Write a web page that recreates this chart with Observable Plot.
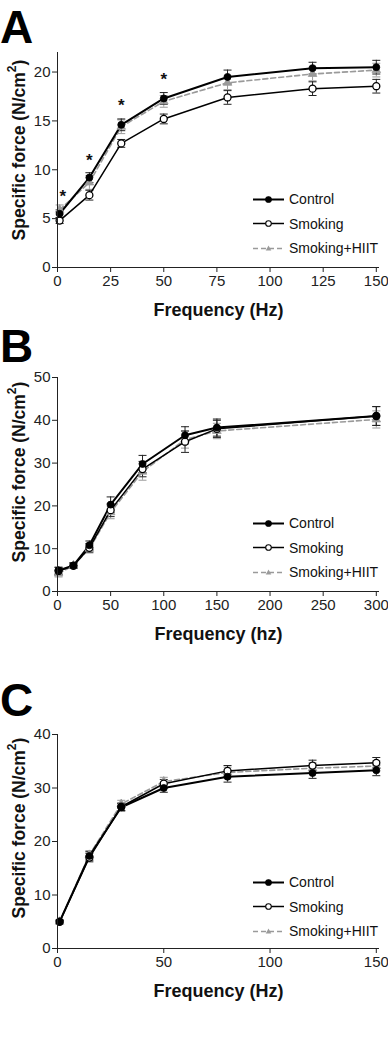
<!DOCTYPE html>
<html><head><meta charset="utf-8">
<script src="https://cdn.jsdelivr.net/npm/d3@7"></script>
<script src="https://cdn.jsdelivr.net/npm/@observablehq/plot@0.6"></script>
<style>
body{margin:0;background:#fff;}
#wrap{position:relative;width:388px;height:1048px;font-family:"Liberation Sans",Arial,sans-serif;overflow:hidden;}
.panel{position:absolute;left:0;}
.letter{position:absolute;left:0;font-weight:bold;font-size:46px;line-height:1;color:#000;}
.ylab{position:absolute;width:260px;height:20px;text-align:center;font-weight:bold;font-size:17.5px;line-height:20px;transform:rotate(-90deg);color:#111;white-space:nowrap;}
.ylab sup{font-size:12px;line-height:0;vertical-align:9px;}
.legend{position:absolute;left:253px;font-size:14px;color:#111;}
.legend .row{height:24.5px;display:flex;align-items:center;}
.legend svg{display:block;margin-right:5px;}
g[aria-label="x-axis label"] text{font-weight:bold;font-size:18px;fill:#111;}
</style></head>
<body><div id="wrap"></div>
<script>
// ---------- DATA ----------
const seriesNames = ["Control", "Smoking", "Smoking+HIIT"];

// Panel A
const freqA = [1, 15, 30, 50, 80, 120, 150];
const controlA = [5.5, 9.2, 14.6, 17.3, 19.5, 20.4, 20.5];
const controlAErr = [0.4, 0.5, 0.6, 0.6, 0.7, 0.6, 0.7];
const smokingA = [4.8, 7.4, 12.7, 15.2, 17.4, 18.3, 18.55];
const smokingAErr = [0.3, 0.5, 0.4, 0.5, 0.7, 0.7, 0.7];
const hiitA = [5.9, 8.7, 14.4, 17.0, 18.9, 19.8, 20.2];
const hiitAErr = [0.5, 0.7, 0.7, 0.6, 0.7, 0.7, 0.7];
const starFreqA = [2.5, 15, 30, 50];
const starYA = [7.7, 11.4, 17.0, 19.6];
const yTicksA = [0, 5, 10, 15, 20];
const xTicksA = [0, 25, 50, 75, 100, 125, 150];

// Panel B
const freqB = [1, 15, 30, 50, 80, 120, 150, 300];
const controlB = [4.9, 6.1, 10.8, 20.3, 29.8, 36.5, 38.3, 41.0];
const controlBErr = [0.8, 0.6, 1.0, 1.8, 2.0, 2.0, 2.0, 2.2];
const smokingB = [4.8, 6.0, 10.2, 19.0, 28.6, 35.0, 38.0, 41.0];
const smokingBErr = [0.8, 0.6, 1.0, 1.5, 1.8, 2.5, 2.0, 2.2];
const hiitB = [4.2, 6.1, 10.0, 18.5, 28.0, 35.5, 37.5, 40.2];
const hiitBErr = [0.8, 0.6, 1.0, 1.5, 2.0, 2.0, 1.8, 2.0];
const yTicksB = [0, 10, 20, 30, 40, 50];
const xTicksB = [0, 50, 100, 150, 200, 250, 300];

// Panel C
const freqC = [1, 15, 30, 50, 80, 120, 150];
const controlC = [5.0, 17.3, 26.4, 30.0, 32.1, 32.8, 33.3];
const controlCErr = [0.3, 0.8, 0.7, 0.8, 1.0, 1.0, 1.0];
const smokingC = [5.0, 17.0, 26.5, 30.8, 33.2, 34.2, 34.7];
const smokingCErr = [0.3, 0.8, 0.7, 0.8, 1.0, 1.0, 1.0];
const hiitC = [5.0, 17.5, 27.0, 31.2, 32.9, 33.7, 34.1];
const hiitCErr = [0.3, 0.8, 0.7, 0.8, 1.0, 1.0, 1.0];
const yTicksC = [0, 10, 20, 30, 40];
const xTicksC = [0, 50, 100, 150];

// ---------- STYLE ----------
const styles = {
  "Control": {stroke: "#000", width: 2, dash: null, fill: "#000", symbol: "circle", r: 3.5},
  "Smoking": {stroke: "#000", width: 1.5, dash: null, fill: "#fff", symbol: "circle", r: 3.5},
  "Smoking+HIIT": {stroke: "#9a9a9a", width: 1.6, dash: "5,3", fill: "#9a9a9a", symbol: "triangle", r: 3.2}
};
const cap = {draw(ctx, size) { const w = Math.sqrt(size / Math.PI); ctx.moveTo(-w, 0); ctx.lineTo(w, 0); }};

function rowsFor(freq, vals, errs, name) {
  return freq.map((f, i) => ({freq: f, v: vals[i], e: errs[i], series: name}));
}

function makePlot({data, xDomain, xTicks, yDomain, yTicks, xLabel, stars, marginBottom}) {
  const marks = [];
  const order = ["Smoking+HIIT", "Smoking", "Control"];
  for (const name of order) {
    const st = styles[name];
    const d = data[name];
    const c = st.stroke === "#000" ? "#222" : st.stroke;
    marks.push(Plot.ruleX(d, {x: "freq", y1: r => r.v - r.e, y2: r => r.v + r.e, stroke: c, strokeWidth: 1}));
    marks.push(Plot.dot(d, {x: "freq", y: r => r.v - r.e, symbol: cap, r: 4, stroke: c, strokeWidth: 1}));
    marks.push(Plot.dot(d, {x: "freq", y: r => r.v + r.e, symbol: cap, r: 4, stroke: c, strokeWidth: 1}));
  }
  for (const name of order) {
    const st = styles[name];
    marks.push(Plot.line(data[name], {x: "freq", y: "v", stroke: st.stroke, strokeWidth: st.width, strokeDasharray: st.dash}));
  }
  for (const name of order) {
    const st = styles[name];
    marks.push(Plot.dot(data[name], {x: "freq", y: "v", symbol: st.symbol, r: st.r, fill: st.fill, stroke: st.stroke, strokeWidth: name === "Smoking" ? 1.3 : 0.8}));
  }
  if (stars) {
    marks.push(Plot.text(stars, {x: "x", y: "y", text: () => "*", fontSize: 17, fontWeight: "bold", fill: "#111", dy: 4}));
  }
  marks.push(Plot.ruleY([0], {stroke: "#222", strokeWidth: 1}));
  marks.push(Plot.ruleX([0], {stroke: "#222", strokeWidth: 1}));
  marks.push(Plot.axisX({ticks: xTicks, tickSize: 5, tickPadding: 3, label: xLabel, labelAnchor: "center", labelArrow: "none", labelOffset: 48, stroke: "#222"}));
  marks.push(Plot.axisY({ticks: yTicks, tickSize: 5, tickPadding: 2, label: null, stroke: "#222"}));
  return Plot.plot({
    width: 388, height: 280,
    marginLeft: 57, marginRight: 9, marginTop: 12, marginBottom: marginBottom,
    x: {domain: xDomain},
    y: {domain: yDomain},
    style: {fontFamily: "'Liberation Sans', Arial, sans-serif", fontSize: "15px", color: "#222", background: "transparent", overflow: "visible"},
    marks
  });
}

const wrap = document.getElementById("wrap");
function addPanel({top, letter, letterTop, ylabCenter, legendTop, plotOpts}) {
  const p = document.createElement("div");
  p.className = "panel"; p.style.top = top + "px";
  p.appendChild(makePlot(plotOpts));
  wrap.appendChild(p);
  const L = document.createElement("div");
  L.className = "letter"; L.style.top = letterTop + "px"; L.textContent = letter;
  wrap.appendChild(L);
  const yl = document.createElement("div");
  yl.className = "ylab"; yl.style.left = (19 - 130) + "px"; yl.style.top = (ylabCenter - 10) + "px";
  yl.innerHTML = "Specific force (N/cm<sup>2</sup>)";
  wrap.appendChild(yl);
  const lg = document.createElement("div");
  lg.className = "legend"; lg.style.top = legendTop + "px";
  for (const name of seriesNames) {
    const st = styles[name];
    const row = document.createElement("div"); row.className = "row";
    const sym = st.symbol === "triangle"
      ? `<path d="M15.5,3.6 L18.3,8.4 L12.7,8.4 Z" fill="${st.fill}"/>`
      : `<circle cx="15.5" cy="6.5" r="2.8" fill="${st.fill}" stroke="${st.stroke}" stroke-width="1.1"/>`;
    row.innerHTML = `<svg width="31" height="13"><line x1="0" x2="31" y1="6.5" y2="6.5" stroke="${st.stroke}" stroke-width="${st.width}" ${st.dash ? `stroke-dasharray="${st.dash}"` : ""}/>${sym}</svg><span>${name}</span>`;
    lg.appendChild(row);
  }
  wrap.appendChild(lg);
}

addPanel({
  top: 40, letter: "A", letterTop: 4, ylabCenter: 150, legendTop: 187,
  plotOpts: {
    data: {"Control": rowsFor(freqA, controlA, controlAErr, "Control"), "Smoking": rowsFor(freqA, smokingA, smokingAErr, "Smoking"), "Smoking+HIIT": rowsFor(freqA, hiitA, hiitAErr, "Smoking+HIIT")},
    xDomain: [0, 151.5], xTicks: xTicksA, yDomain: [0, 22], yTicks: yTicksA, xLabel: "Frequency (Hz)",
    stars: starFreqA.map((x, i) => ({x, y: starYA[i]})), marginBottom: 53
  }
});
addPanel({
  top: 365, letter: "B", letterTop: 323, ylabCenter: 472, legendTop: 511,
  plotOpts: {
    data: {"Control": rowsFor(freqB, controlB, controlBErr, "Control"), "Smoking": rowsFor(freqB, smokingB, smokingBErr, "Smoking"), "Smoking+HIIT": rowsFor(freqB, hiitB, hiitBErr, "Smoking+HIIT")},
    xDomain: [0, 303], xTicks: xTicksB, yDomain: [0, 50], yTicks: yTicksB, xLabel: "Frequency (hz)",
    stars: null, marginBottom: 54
  }
});
addPanel({
  top: 722, letter: "C", letterTop: 677, ylabCenter: 828, legendTop: 870,
  plotOpts: {
    data: {"Control": rowsFor(freqC, controlC, controlCErr, "Control"), "Smoking": rowsFor(freqC, smokingC, smokingCErr, "Smoking"), "Smoking+HIIT": rowsFor(freqC, hiitC, hiitCErr, "Smoking+HIIT")},
    xDomain: [0, 151.5], xTicks: xTicksC, yDomain: [0, 40], yTicks: yTicksC, xLabel: "Frequency (Hz)",
    stars: null, marginBottom: 54
  }
});
</script></body></html>
